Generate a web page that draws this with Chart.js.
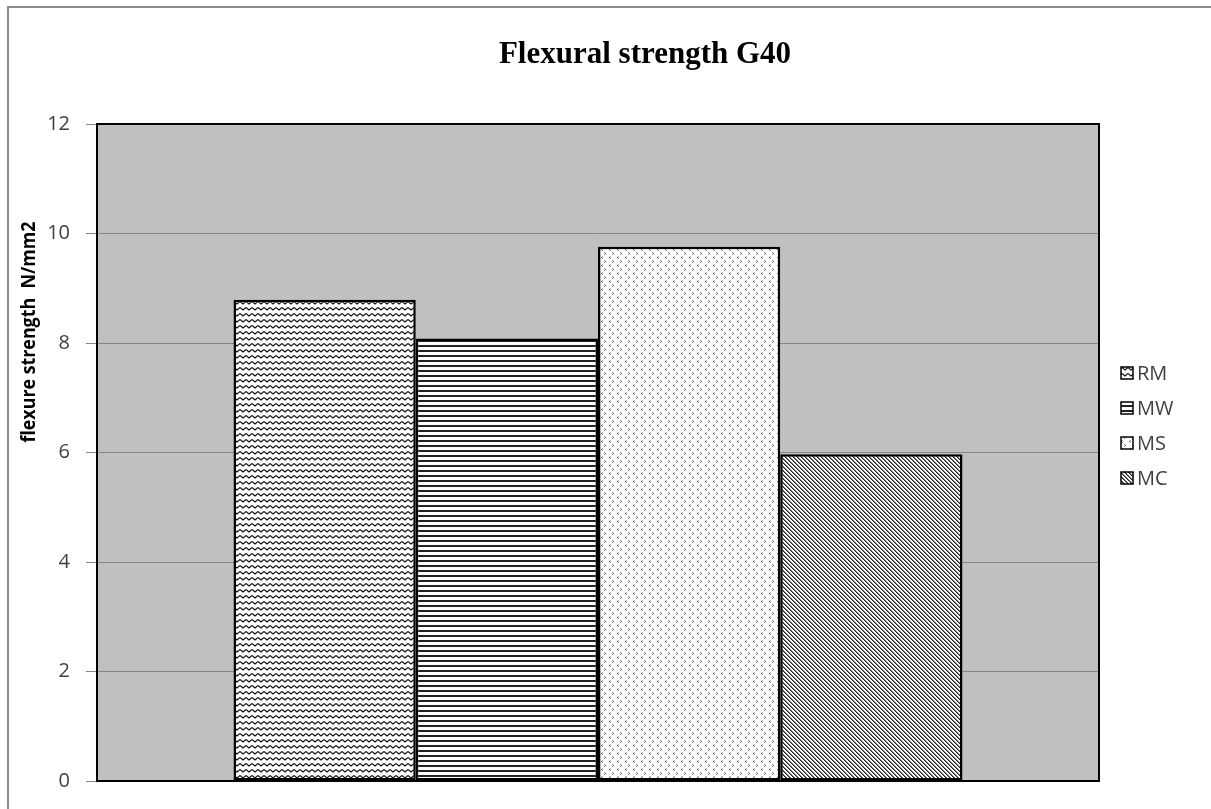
<!DOCTYPE html>
<html>
<head>
<meta charset="utf-8">
<title>Flexural strength G40</title>
<script src="https://cdn.jsdelivr.net/npm/chart.js@4.4.0/dist/chart.umd.min.js"></script>
<style>
  html, body { margin: 0; padding: 0; background: #ffffff; overflow: hidden; }
  #wrap { position: relative; width: 1211px; height: 809px; }
  #frame {
    position: absolute; left: 7px; top: 6px; width: 1400px; height: 1000px;
    border: 2px solid #8c8c8c; pointer-events: none;
  }
</style>
</head>
<body>
<div id="wrap">
  <canvas id="chart" width="1211" height="809"></canvas>
  <div id="frame"></div>
</div>
<script>
// --- chart data ---
const categories = [""];
const seriesLabels = ["RM", "MW", "MS", "MC"];
const rmValues = [8.79];
const mwValues = [8.08];
const msValues = [9.76];
const mcValues = [5.97];
const yTicks = [0, 2, 4, 6, 8, 10, 12];

const chartTitle = "Flexural strength G40";
const yTitle = "flexure strength  N/mm2";

// --- fill patterns (Excel style hatches) ---
function makePattern(kind) {
  const c = document.createElement("canvas");
  const g = c.getContext("2d");
  if (kind === "wave") {
    c.width = 6; c.height = 6;
    g.fillStyle = "#fff"; g.fillRect(0, 0, 6, 6);
    g.strokeStyle = "#111"; g.lineWidth = 1.1;
    g.beginPath();
    g.moveTo(0, 1.5); g.lineTo(3, 4); g.lineTo(6, 1.5);
    g.stroke();
  } else if (kind === "hlines") {
    c.width = 4; c.height = 5;
    g.fillStyle = "#fff"; g.fillRect(0, 0, 4, 5);
    g.fillStyle = "#222"; g.fillRect(0, 0, 4, 2);
  } else if (kind === "dots") {
    c.width = 8; c.height = 8;
    g.fillStyle = "#fff"; g.fillRect(0, 0, 8, 8);
    g.fillStyle = "#444"; g.fillRect(1, 1, 1, 1); g.fillRect(5, 5, 1, 1);
    g.fillStyle = "#888"; g.fillRect(2, 0, 1, 1); g.fillRect(2, 2, 1, 1);
    g.fillRect(4, 4, 1, 1); g.fillRect(4, 6, 1, 1);
  } else {
    c.width = 4; c.height = 4;
    g.fillStyle = "#fff"; g.fillRect(0, 0, 4, 4);
    g.fillStyle = "#222";
    for (let i = 0; i < 4; i++) g.fillRect(i, i, 1, 1);
    g.fillStyle = "#777";
    for (let i = 0; i < 4; i++) g.fillRect((i + 1) % 4, i, 1, 1);
  }
  return c;
}

const ctx = document.getElementById("chart").getContext("2d");
const patterns = ["wave", "hlines", "dots", "diag"].map((k) =>
  ctx.createPattern(makePattern(k), "repeat")
);

// plot background + frame
const plotArea = {
  id: "plotArea",
  beforeDraw(chart) {
    const { ctx, chartArea: a } = chart;
    ctx.save();
    ctx.fillStyle = "#c0c0c0";
    ctx.fillRect(a.left, a.top, a.right - a.left, a.bottom - a.top);
    ctx.restore();
  },
  afterDatasetsDraw(chart) {
    const { ctx, chartArea: a } = chart;
    ctx.save();
    ctx.strokeStyle = "#000";
    ctx.lineWidth = 2;
    ctx.strokeRect(a.left, a.top, a.right - a.left, a.bottom - a.top);
    ctx.restore();
  },
};

// title, y axis title and legend drawn where Excel put them
const decorations = {
  id: "decorations",
  afterDraw(chart) {
    const c = chart.ctx;
    c.save();
    c.fillStyle = "#000";
    c.font = "bold 31px 'Liberation Serif'";
    c.textAlign = "center";
    c.textBaseline = "middle";
    c.fillText(chartTitle, 645, 55);

    c.translate(29, 332);
    c.rotate(-Math.PI / 2);
    c.font = "bold 20px 'Open Sans'";
    c.fillText(yTitle, 0, 0, 221);
    c.restore();

    c.save();
    c.font = "20px 'Open Sans'";
    c.textBaseline = "middle";
    chart.data.datasets.forEach((ds, i) => {
      const y = 373 + i * 35;
      c.fillStyle = ds.backgroundColor;
      c.fillRect(1121, y - 6, 12, 12);
      c.strokeStyle = "#000";
      c.lineWidth = 1.5;
      c.strokeRect(1121, y - 6, 12, 12);
      c.fillStyle = "#404040";
      c.fillText(ds.label, 1137, y + 1);
    });
    c.restore();
  },
};

const valueSets = [rmValues, mwValues, msValues, mcValues];

new Chart(ctx, {
  type: "bar",
  data: {
    labels: categories,
    datasets: seriesLabels.map((label, i) => ({
      label: label,
      data: valueSets[i],
      backgroundColor: patterns[i],
      borderColor: "#000",
      borderWidth: 2.5,
      borderSkipped: false,
      categoryPercentage: 0.7275,
      barPercentage: 1.0,
    })),
  },
  options: {
    responsive: false,
    animation: false,
    devicePixelRatio: 1,
    layout: { padding: { top: 124, right: 112, bottom: 24, left: 0 } },
    plugins: {
      legend: { display: false },
      title: { display: false },
      tooltip: { enabled: false },
    },
    scales: {
      x: { display: false },
      y: {
        min: 0,
        max: 12,
        afterBuildTicks: (scale) => {
          scale.ticks = yTicks.map((v) => ({ value: v }));
        },
        afterFit: (scale) => {
          scale.width = 97;
        },
        ticks: {
          color: "#404040",
          font: { family: "'Open Sans'", size: 20 },
          padding: 16,
        },
        grid: {
          color: "#868686",
          lineWidth: 1,
          tickColor: "#868686",
          tickLength: 11,
        },
        border: { display: true, color: "#000", width: 2 },
      },
    },
  },
  plugins: [plotArea, decorations],
});
</script>
</body>
</html>
